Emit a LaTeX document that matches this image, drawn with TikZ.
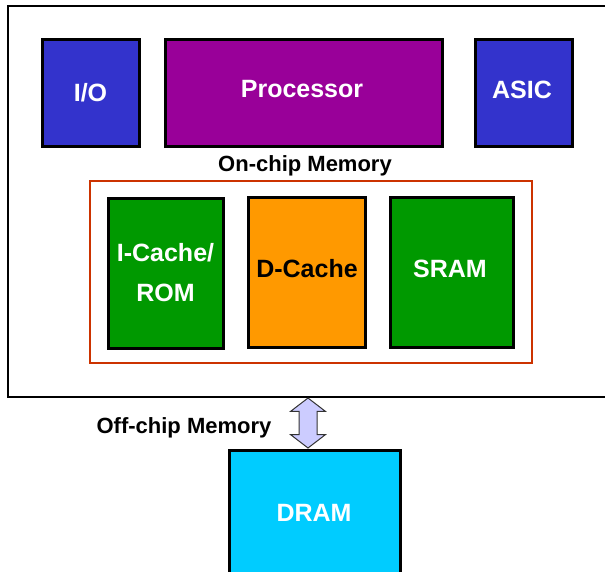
\documentclass[tikz,border=0pt]{standalone}
\usepackage{fontspec}
\setmainfont{Liberation Sans}
\usetikzlibrary{shapes.arrows}

\definecolor{ioblue}{HTML}{3333CC}
\definecolor{procpurple}{HTML}{990099}
\definecolor{memgreen}{HTML}{009900}
\definecolor{cacheorange}{HTML}{FF9900}
\definecolor{dramcyan}{HTML}{00CCFF}
\definecolor{memred}{HTML}{CC3300}
\definecolor{buslilac}{HTML}{CCCCFF}

\begin{document}
\begin{tikzpicture}[x=1pt, y=-1pt,
    block/.style={draw=black, line width=3pt, inner sep=0pt, text=white,
      font=\fontsize{25}{30}\selectfont\bfseries},
    lbl/.style={font=\fontsize{22}{26}\selectfont\bfseries}]
      \clip (0,0) rectangle (605,571);
      \node[draw=black, line width=2pt, minimum width=612pt, minimum height=391pt] (chip) at (314, 201.5) {};
      \node[block, fill=ioblue, minimum width=97pt, minimum height=107pt] (io) at (90.5, 92.5) {I/O};
      \node[block, fill=procpurple, minimum width=277pt, minimum height=107pt] (proc) at (303.5, 92.5) {};
      \node[text=white, font=\fontsize{25}{30}\selectfont\bfseries] (proctext) at (302, 89) {Processor};
      \node[block, fill=ioblue, minimum width=97pt, minimum height=107pt] (asic) at (523.5, 92.5) {};
      \node[text=white, font=\fontsize{25}{30}\selectfont\bfseries] (asictext) at (522, 90) {ASIC};
      \node[lbl] (onchip) at (305, 166) {On-chip Memory};
      \node[draw=memred, line width=2.5pt, minimum width=442pt, minimum height=182pt] (mem) at (311, 272) {};
      \node[block, fill=memgreen, minimum width=115pt, minimum height=150pt, align=center] (icache) at (165.5, 273) {I-Cache/\\[10pt]ROM};
      \node[block, fill=cacheorange, text=black, minimum width=117pt, minimum height=150pt] (dcache) at (306.5, 272) {};
      \node[font=\fontsize{25}{30}\selectfont\bfseries] (dcachetext) at (307, 269) {D-Cache};
      \node[block, fill=memgreen, minimum width=123pt, minimum height=150pt] (sram) at (451.5, 272) {};
      \node[text=white, font=\fontsize{25}{30}\selectfont\bfseries] (sramtext) at (450, 269) {SRAM};
      \node[lbl] (offchip) at (184, 428) {Off-chip Memory};
      \node[block, fill=dramcyan, minimum width=171pt, minimum height=130pt] (dram) at (314.5, 515) {};
      \node[text=white, font=\fontsize{25}{30}\selectfont\bfseries] (dramtext) at (314, 513) {DRAM};
      \node[double arrow, draw=black!80, fill=buslilac, line width=1pt, rotate=90,
        minimum height=50pt, minimum width=34pt, inner xsep=0pt, inner ysep=8.5pt,
        double arrow head extend=8.5pt, double arrow tip angle=105] (bus) at (308, 423) {};
  \end{tikzpicture}
\end{document}
